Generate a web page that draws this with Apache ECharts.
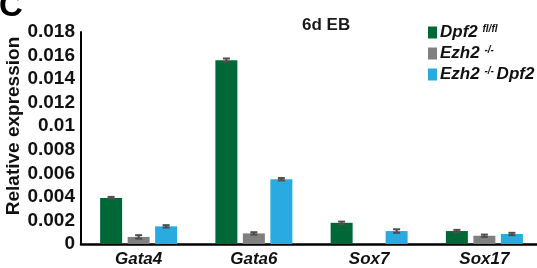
<!DOCTYPE html>
<html>
<head>
<meta charset="utf-8">
<script src="https://cdn.jsdelivr.net/npm/echarts@6/dist/echarts.min.js"></script>
<style>
  html, body { margin: 0; padding: 0; background: #fff; }
  #chart { width: 537px; height: 268px; }
</style>
</head>
<body>
<div id="chart"></div>
<script>
// Genes on the x axis
const genes = ['Gata4', 'Gata6', 'Sox7', 'Sox17'];

// Mean relative expression per genotype
const dpf2Vals = [0.0039, 0.0156, 0.0018, 0.0011];
const ezh2Vals = [0.0006, 0.0009, null, 0.0007];
const dkoVals = [0.0015, 0.0055, 0.0011, 0.00085];

// Error (+/-) per genotype
const dpf2Err = [0.0001, 0.00015, 0.0001, 0.0001];
const ezh2Err = [0.00015, 0.0001, null, 0.0001];
const dkoErr = [0.0001, 0.0001, 0.00015, 0.0001];

const yTicks = [0, 0.002, 0.004, 0.006, 0.008, 0.01, 0.012, 0.014, 0.016, 0.018];

const font = "'Liberation Sans', Arial, Helvetica, sans-serif";
const barW = 22;
const step = 27.5; // distance between bar centres in a group

function errorSeries(vals, errs, offset) {
  const data = [];
  vals.forEach((v, i) => {
    if (v != null && errs[i] != null) data.push([i, v, errs[i]]);
  });
  return {
    type: 'custom',
    silent: true,
    z: 5,
    data: data,
    renderItem: function (params, api) {
      const i = api.value(0);
      const v = api.value(1);
      const e = api.value(2);
      const hi = api.coord([i, v + e]);
      const lo = api.coord([i, v - e]);
      const x = hi[0] + offset;
      const cap = 3.5;
      const style = { stroke: '#4d4d4d', lineWidth: 2 };
      return {
        type: 'group',
        children: [
          { type: 'line', shape: { x1: x, y1: hi[1], x2: x, y2: lo[1] }, style: style },
          { type: 'line', shape: { x1: x - cap, y1: hi[1], x2: x + cap, y2: hi[1] }, style: style },
          { type: 'line', shape: { x1: x - cap, y1: lo[1], x2: x + cap, y2: lo[1] }, style: style }
        ]
      };
    }
  };
}

const chart = echarts.init(document.getElementById('chart'));

const option = {
  animation: false,
  backgroundColor: '#ffffff',
  title: {
    text: '6d EB',
    left: 297,
    top: 12,
    textStyle: { fontFamily: font, fontSize: 17, fontWeight: 'bold', color: '#1a1a1a' }
  },
  graphic: [{
    type: 'text',
    left: -1,
    top: -10,
    style: { text: 'C', font: 'bold 33px ' + font, fill: '#000' }
  }],
  legend: {
    orient: 'vertical',
    left: 423,
    top: 19,
    itemWidth: 9,
    itemHeight: 12,
    itemGap: 4,
    icon: 'rect',
    data: ['dpf2', 'ezh2', 'dko'],
    formatter: function (name) {
      if (name === 'dpf2') return '{i|Dpf2 }{s|fl/fl}';
      if (name === 'ezh2') return '{i|Ezh2 }{s|-/-}';
      return '{i|Ezh2 }{s|-/- }{i|Dpf2}';
    },
    textStyle: {
      padding: [0, 0, 0, -2],
      rich: {
        i: { fontFamily: font, fontSize: 17, fontWeight: 'bold', fontStyle: 'italic', color: '#111', lineHeight: 17 },
        s: { fontFamily: font, fontSize: 10, fontWeight: 'bold', fontStyle: 'italic', color: '#111', verticalAlign: 'top', lineHeight: 17 }
      }
    }
  },
  grid: { left: 81, right: -5, top: 32, bottom: 24, containLabel: false, outerBoundsMode: 'none' },
  xAxis: {
    type: 'category',
    data: genes,
    axisLine: { lineStyle: { color: '#000', width: 2.5 } },
    axisTick: { show: false },
    axisLabel: {
      margin: 7,
      fontFamily: font,
      fontSize: 17,
      fontWeight: 'bold',
      fontStyle: 'italic',
      color: '#111'
    }
  },
  yAxis: {
    type: 'value',
    min: 0,
    max: 0.018,
    interval: 0.002,
    name: 'Relative expression',
    nameLocation: 'middle',
    nameGap: 58,
    nameMoveOverlap: false,
    nameTextStyle: {
      fontFamily: font,
      fontSize: 19,
      fontWeight: 'bold',
      color: '#111',
      padding: [0, 0, 0, 24]
    },
    axisLine: { show: true, lineStyle: { color: '#000', width: 2 } },
    axisTick: { show: false },
    splitLine: { show: false },
    axisLabel: {
      margin: 6,
      fontFamily: font,
      fontSize: 19,
      fontWeight: 'bold',
      color: '#111',
      formatter: function (v) {
        const t = yTicks.find(k => Math.abs(k - v) < 1e-9);
        return String(t != null ? t : parseFloat(v.toFixed(3)));
      }
    }
  },
  series: [
    { name: 'dpf2', type: 'bar', data: dpf2Vals, barWidth: barW, barGap: '25%', itemStyle: { color: '#006837' } },
    { name: 'ezh2', type: 'bar', data: ezh2Vals, barWidth: barW, barGap: '25%', itemStyle: { color: '#808080' } },
    { name: 'dko', type: 'bar', data: dkoVals, barWidth: barW, barGap: '25%', itemStyle: { color: '#29abe2' } },
    errorSeries(dpf2Vals, dpf2Err, -step),
    errorSeries(ezh2Vals, ezh2Err, 0),
    errorSeries(dkoVals, dkoErr, step)
  ]
};

chart.setOption(option);

window.addEventListener('resize', () => {
  chart.resize();
});
</script>
</body>
</html>
